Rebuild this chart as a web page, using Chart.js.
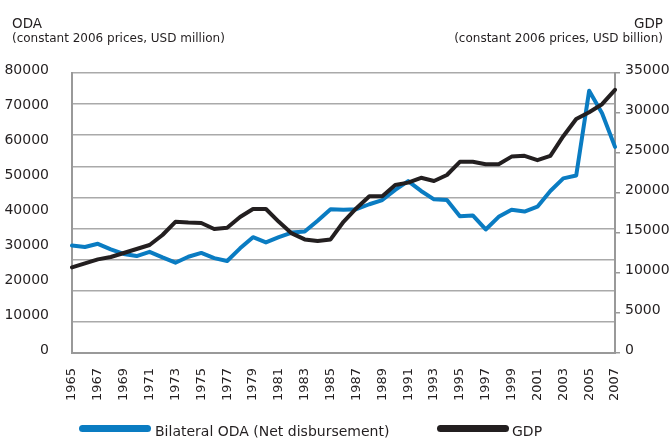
<!DOCTYPE html>
<html>
<head>
<meta charset="utf-8">
<script src="https://cdn.jsdelivr.net/npm/chart.js@4.4.0/dist/chart.umd.min.js"></script>
<style>
html,body{margin:0;padding:0;background:#fff;}
#wrap{position:relative;width:672px;height:439px;overflow:hidden;font-family:"DejaVu Sans",sans-serif;color:#231f20;}
canvas{position:absolute;left:0;top:0;}
.t{position:absolute;white-space:nowrap;}
.bar{position:absolute;height:7px;border-radius:3.5px;}
</style>
</head>
<body>
<div id="wrap">
  <canvas id="c" width="672" height="439"></canvas>
  <div class="t" style="left:12px;top:17px;font-size:13.5px;line-height:13px;">ODA</div>
  <div class="t" style="left:12px;top:32px;font-size:12px;line-height:12px;">(constant 2006 prices, USD million)</div>
  <div class="t" style="right:9px;top:17px;font-size:13.5px;line-height:13px;">GDP</div>
  <div class="t" style="right:9px;top:32px;font-size:12px;line-height:12px;">(constant 2006 prices, USD billion)</div>
  <div class="bar" style="left:79px;top:425px;width:72px;background:#0a7cc2;"></div>
  <div class="t" style="left:155px;top:424px;font-size:14px;line-height:14px;">Bilateral ODA (Net disbursement)</div>
  <div class="bar" style="left:437px;top:425px;width:72px;background:#231f20;"></div>
  <div class="t" style="left:512px;top:424px;font-size:14px;line-height:14px;">GDP</div>
</div>
<script>
const years = ['1965','1966','1967','1968','1969','1970','1971','1972','1973','1974','1975','1976','1977','1978','1979','1980','1981','1982','1983','1984','1985','1986','1987','1988','1989','1990','1991','1992','1993','1994','1995','1996','1997','1998','1999','2000','2001','2002','2003','2004','2005','2006','2007'];

// Bilateral ODA, USD million (left axis)
const odaValues = [30700,30300,31200,29600,28300,27700,28900,27300,25800,27500,28600,27100,26300,29900,33100,31600,33100,34400,34700,37800,41100,40900,41100,42500,43700,46600,49100,46300,43900,43700,39100,39300,35300,38900,40900,40400,41800,46300,49900,50700,74900,68500,58900];

// GDP, USD billion (right axis)
const gdpValues = [10700,11200,11700,12000,12500,13000,13500,14750,16400,16300,16250,15500,15650,17000,18000,18000,16400,14950,14200,14000,14200,16400,18100,19600,19600,21000,21300,21900,21500,22250,23900,23900,23600,23600,24550,24650,24100,24650,27100,29250,30100,31100,32900];

const leftMax = 80000, leftStep = 10000;
const rightMax = 35000, rightStep = 5000;

const textColor = '#231f20';
const axisColor = '#999999';
const gridColor = '#aaaaaa';
const fontFamily = '"DejaVu Sans", sans-serif';

new Chart(document.getElementById('c'), {
  type: 'line',
  data: {
    labels: years,
    datasets: [
      {label: 'GDP', data: gdpValues, yAxisID: 'y2', borderColor: '#231f20', backgroundColor: '#231f20',
       borderWidth: 4, pointRadius: 0, tension: 0, order: 0, borderJoinStyle: 'round', borderCapStyle: 'round', fill: false},
      {label: 'Bilateral ODA (Net disbursement)', data: odaValues, yAxisID: 'y', borderColor: '#0a7cc2', backgroundColor: '#0a7cc2',
       borderWidth: 4, pointRadius: 0, tension: 0, order: 1, borderJoinStyle: 'round', borderCapStyle: 'round', fill: false}
    ]
  },
  options: {
    responsive: false,
    animation: false,
    layout: {padding: {top: 73, left: 0, right: 0, bottom: 0}},
    plugins: {legend: {display: false}, tooltip: {enabled: false}, title: {display: false}},
    scales: {
      x: {
        type: 'category', offset: false,
        grid: {display: false},
        border: {display: true, color: axisColor, width: 2},
        ticks: {
          autoSkip: false, minRotation: 90, maxRotation: 90, padding: 7, color: textColor,
          font: {family: fontFamily, size: 13},
          callback: function(v, i) { return i % 2 === 0 ? this.getLabelForValue(v) : ''; }
        },
        afterFit: s => { s.height = 86; }
      },
      y: {
        position: 'left', min: 0, max: leftMax,
        ticks: {stepSize: leftStep, padding: 15, labelOffset: -3, color: textColor, font: {family: fontFamily, size: 14},
                callback: v => String(v)},
        grid: {display: false},
        border: {display: true, color: axisColor, width: 2},
        afterFit: s => { s.width = 72; }
      },
      g: {
        position: 'left', min: 0, max: 9,
        ticks: {display: false, stepSize: 1},
        grid: {display: true, color: gridColor, lineWidth: 1.5, drawTicks: false},
        border: {display: false},
        afterFit: s => { s.width = 0; }
      },
      y2: {
        position: 'right', min: 0, max: rightMax,
        ticks: {stepSize: rightStep, padding: 5, labelOffset: -3, color: textColor, font: {family: fontFamily, size: 14},
                callback: v => String(v)},
        grid: {drawOnChartArea: false, drawTicks: true, tickLength: 5, color: axisColor, lineWidth: 1.5},
        border: {display: true, color: axisColor, width: 2},
        afterFit: s => { s.width = 57; }
      }
    }
  }
});
</script>
</body>
</html>
